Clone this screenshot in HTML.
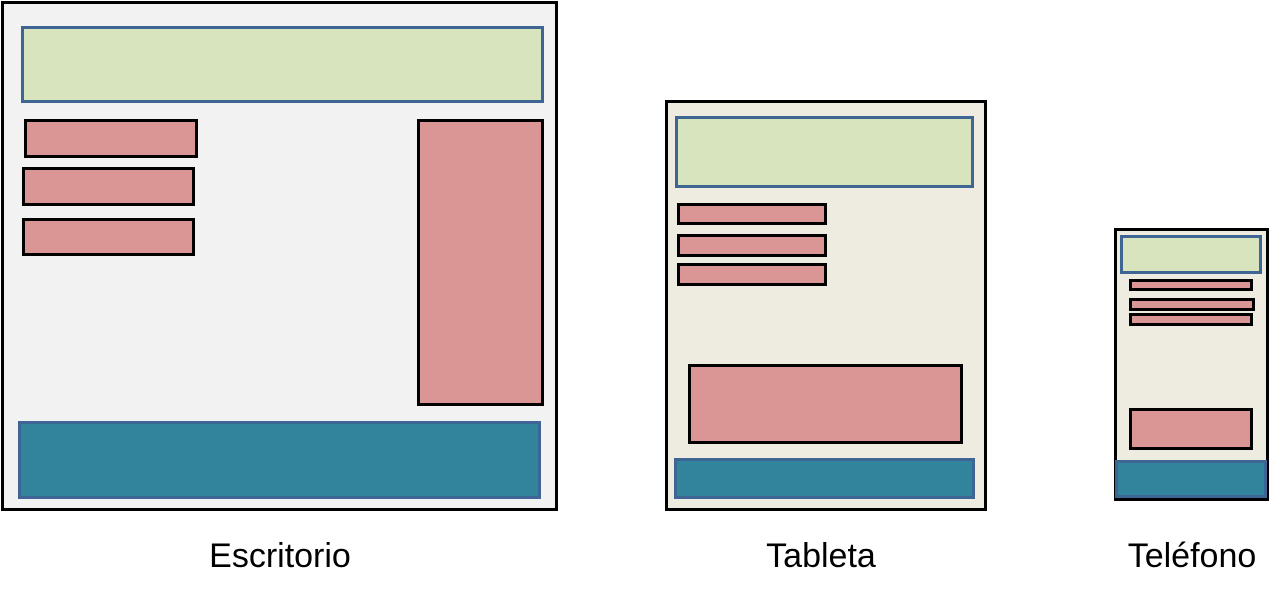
<!DOCTYPE html>
<html><head><meta charset="utf-8"><style>
body{margin:0;width:1283px;height:604px;background:#fff;position:relative;overflow:hidden;font-family:"Liberation Sans",sans-serif}
div{position:absolute;box-sizing:border-box}
.f{border:3px solid #000}
.g{background:#d7e4bd;border:3px solid #3e6594}
.p{background:#d99694;border:3px solid #000}
.t{background:#31849b;border:3px solid #3e6594}
.l{font-size:34px;color:#000;text-align:center;width:300px}
</style></head><body>
<div class="f" style="left:1px;top:1px;width:557px;height:510px;background:#f2f2f2"></div>
<div class="g" style="left:21px;top:26px;width:523px;height:77px"></div>
<div class="p" style="left:24px;top:119px;width:174px;height:39px"></div>
<div class="p" style="left:22px;top:167px;width:173px;height:39px"></div>
<div class="p" style="left:22px;top:218px;width:173px;height:38px"></div>
<div class="p" style="left:417px;top:119px;width:127px;height:287px"></div>
<div class="t" style="left:18px;top:421px;width:523px;height:78px"></div>
<div class="l" style="left:130px;top:537px">Escritorio</div>

<div class="f" style="left:665px;top:100px;width:322px;height:411px;background:#eeece1"></div>
<div class="g" style="left:675px;top:116px;width:299px;height:72px"></div>
<div class="p" style="left:677px;top:203px;width:150px;height:22px"></div>
<div class="p" style="left:677px;top:234px;width:150px;height:23px"></div>
<div class="p" style="left:677px;top:263px;width:150px;height:23px"></div>
<div class="p" style="left:688px;top:364px;width:275px;height:80px"></div>
<div class="t" style="left:674px;top:458px;width:301px;height:41px"></div>
<div class="l" style="left:671px;top:537px">Tableta</div>

<div class="f" style="left:1114px;top:228px;width:155px;height:273px;background:#eeece1"></div>
<div class="g" style="left:1120px;top:235px;width:142px;height:39px"></div>
<div class="p" style="left:1129px;top:279px;width:124px;height:12px"></div>
<div class="p" style="left:1129px;top:298px;width:126px;height:13px"></div>
<div class="p" style="left:1129px;top:313px;width:124px;height:13px"></div>
<div class="p" style="left:1129px;top:408px;width:124px;height:42px"></div>
<div class="t" style="left:1115px;top:460px;width:152px;height:38px"></div>
<div class="l" style="left:1042px;top:537px">Teléfono</div>
</body></html>
